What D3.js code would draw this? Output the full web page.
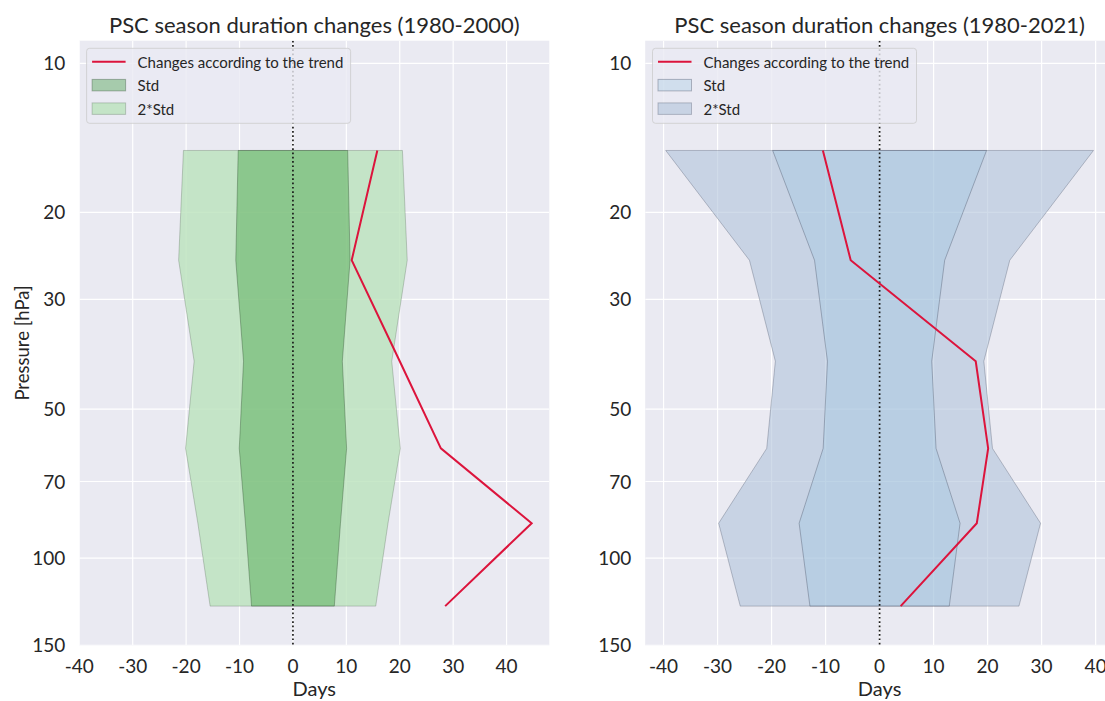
<!DOCTYPE html>
<html>
<head>
<meta charset="utf-8">
<script src="https://cdn.jsdelivr.net/npm/d3@7"></script>
<style>
  body { margin: 0; background: #ffffff; }
  text { font-family: Lato, "Open Sans", sans-serif; fill: #262626; }
</style>
</head>
<body>
<svg id="chart" width="1105" height="701"></svg>
<script>
// Pressure levels (hPa) at which the season-duration statistics are given
const levels = [15, 25, 40, 60, 85, 125];

// 1980-2000: trend-based change and standard deviation (days)
const trend1980_2000 = [15.8, 11.0, 20.0, 27.7, 44.7, 28.5];
const std1980_2000   = [10.25, 10.7, 9.25, 10.05, 8.9, 7.75];

// 1980-2021: trend-based change and standard deviation (days)
const trend1980_2021 = [-10.5, -5.35, 17.8, 20.1, 18.0, 3.9];
const std1980_2021   = [19.8, 12.05, 9.65, 10.45, 14.9, 12.9];

// Axis ticks and labels
const pressureTicks = [10, 20, 30, 50, 70, 100, 150];
const dayTicks = [-40, -30, -20, -10, 0, 10, 20, 30, 40];
const legendLabels = ["Changes according to the trend", "Std", "2*Std"];
const titles = ["PSC season duration changes (1980-2000)", "PSC season duration changes (1980-2021)"];

const svg = d3.select("#chart");

const panels = [
  {
    title: titles[0], trend: trend1980_2000, std: std1980_2000,
    left: 79.3, right: 549.3, xDomain: [-40, 48],
    fill2: "rgba(186,226,187,0.8)", fill1: "rgba(0,128,0,0.29)",
    edge2: "rgba(70,90,70,0.28)", edge1: "rgba(40,70,40,0.35)",
    yLabel: true
  },
  {
    title: titles[1], trend: trend1980_2021, std: std1980_2021,
    left: 645.2, right: 1114, xDomain: [-43.4, 43.4],
    fill2: "rgba(176,195,218,0.6)", fill1: "rgba(150,195,225,0.3)",
    edge2: "rgba(60,70,90,0.3)", edge1: "rgba(60,70,90,0.35)",
    yLabel: false
  }
];

const axTop = 40.7, axBottom = 645.3;
const y = d3.scaleLog().domain([150, 9]).range([axBottom, axTop]);

panels.forEach((p, pi) => {
  const x = d3.scaleLinear().domain(p.xDomain).range([p.left, p.right]);
  const g = svg.append("g");

  // clip everything to the axes box
  const clipId = "clip" + pi;
  svg.append("clipPath").attr("id", clipId)
    .append("rect").attr("x", p.left).attr("y", axTop)
    .attr("width", p.right - p.left).attr("height", axBottom - axTop);

  // background
  g.append("rect").attr("x", p.left).attr("y", axTop)
    .attr("width", p.right - p.left).attr("height", axBottom - axTop)
    .attr("fill", "#eaeaf2");

  const plot = g.append("g").attr("clip-path", `url(#${clipId})`);

  // grid
  plot.selectAll(".vgrid").data(dayTicks).join("line")
    .attr("x1", d => x(d)).attr("x2", d => x(d))
    .attr("y1", axTop).attr("y2", axBottom)
    .attr("stroke", "#ffffff").attr("stroke-width", 1.2);
  plot.selectAll(".hgrid").data(pressureTicks).join("line")
    .attr("x1", p.left).attr("x2", p.right)
    .attr("y1", d => y(d)).attr("y2", d => y(d))
    .attr("stroke", "#ffffff").attr("stroke-width", 1.2);

  const rows = levels.map((lev, i) => ({ lev, s: p.std[i], t: p.trend[i] }));

  // 2*Std band
  const area2 = d3.area()
    .y(d => y(d.lev))
    .x0(d => x(-2 * d.s))
    .x1(d => x(2 * d.s));
  plot.append("path").datum(rows).attr("d", area2)
    .attr("fill", p.fill2).attr("stroke", p.edge2).attr("stroke-width", 1);

  // Std band
  const area1 = d3.area()
    .y(d => y(d.lev))
    .x0(d => x(-d.s))
    .x1(d => x(d.s));
  plot.append("path").datum(rows).attr("d", area1)
    .attr("fill", p.fill1).attr("stroke", p.edge1).attr("stroke-width", 1);

  // zero line
  plot.append("line")
    .attr("x1", x(0)).attr("x2", x(0)).attr("y1", axTop).attr("y2", axBottom)
    .attr("stroke", "#1a1a1a").attr("stroke-width", 1.7)
    .attr("stroke-dasharray", "1.7,2.6");

  // trend line
  const line = d3.line().x(d => x(d.t)).y(d => y(d.lev));
  plot.append("path").datum(rows).attr("d", line)
    .attr("fill", "none").attr("stroke", "#dc143c").attr("stroke-width", 2);

  // x tick labels
  g.selectAll(".xt").data(dayTicks).join("text")
    .attr("x", d => x(d)).attr("y", axBottom + 27.4)
    .attr("text-anchor", "middle").attr("font-size", 19)
    .text(d => d);

  // y tick labels
  g.selectAll(".yt").data(pressureTicks).join("text")
    .attr("x", p.left - 14).attr("y", d => y(d) + 7)
    .attr("text-anchor", "end").attr("font-size", 19)
    .text(d => d);

  // axis labels
  g.append("text")
    .attr("x", (p.left + p.right) / 2)
    .attr("y", 696)
    .attr("text-anchor", "middle").attr("font-size", 20)
    .text("Days");
  if (p.yLabel) {
    g.append("text")
      .attr("transform", `translate(29,${(axTop + axBottom) / 2}) rotate(-90)`)
      .attr("text-anchor", "middle").attr("font-size", 18.5)
      .text("Pressure [hPa]");
  }

  // title
  g.append("text")
    .attr("x", (p.left + p.right) / 2).attr("y", 33)
    .attr("text-anchor", "middle").attr("font-size", 22)
    .text(p.title);

  // legend
  const lx = p.left + 7.3, ly = 48.3;
  const leg = g.append("g");
  leg.append("rect").attr("x", lx).attr("y", ly)
    .attr("width", 264).attr("height", 75).attr("rx", 3)
    .attr("fill", "rgba(234,234,242,0.8)")
    .attr("stroke", "rgba(204,204,204,0.8)").attr("stroke-width", 1);
  const rowY = [61.7, 85.2, 108.7];
  leg.append("line")
    .attr("x1", lx + 5.5).attr("x2", lx + 39).attr("y1", rowY[0]).attr("y2", rowY[0])
    .attr("stroke", "#dc143c").attr("stroke-width", 2);
  leg.append("rect").attr("x", lx + 5.5).attr("y", rowY[1] - 5.8)
    .attr("width", 33.5).attr("height", 11.5)
    .attr("fill", p.fill1).attr("stroke", p.edge1);
  leg.append("rect").attr("x", lx + 5.5).attr("y", rowY[2] - 5.8)
    .attr("width", 33.5).attr("height", 11.5)
    .attr("fill", p.fill2).attr("stroke", p.edge2);
  leg.selectAll(".lt").data(legendLabels).join("text")
    .attr("x", lx + 51).attr("y", (d, i) => rowY[i] + 6)
    .attr("font-size", 15)
    .text(d => d);
});
</script>
</body>
</html>
